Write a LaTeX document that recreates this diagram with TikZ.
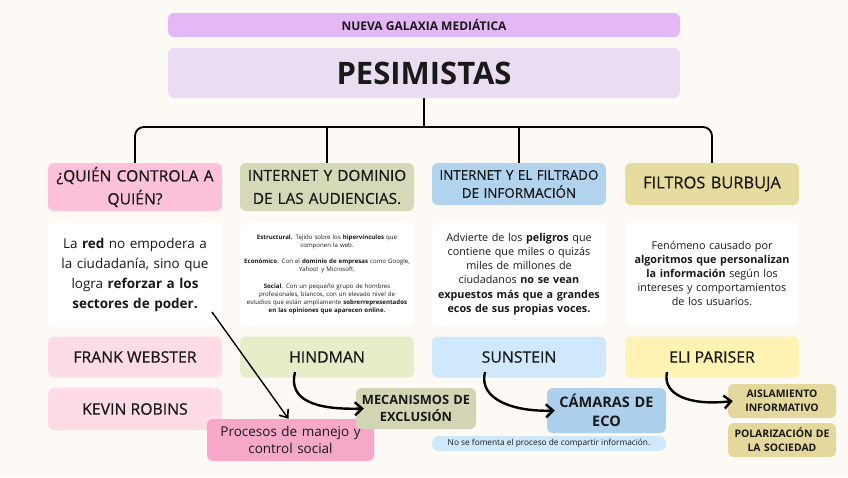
\documentclass[tikz,border=0pt]{standalone}
\usepackage{fontspec}
\setmainfont{Open Sans}
\newfontfamily\medfont[FakeBold=0.6]{Open Sans}
\usetikzlibrary{arrows.meta}
\definecolor{bgc}{HTML}{FDF9F4}
\definecolor{lilac}{HTML}{E4B8F4}
\definecolor{pesc}{HTML}{EADDF1}
\definecolor{pinkh}{HTML}{FDC2D9}
\definecolor{sageh}{HTML}{D5D9B8}
\definecolor{blueh}{HTML}{B1D3EE}
\definecolor{khakih}{HTML}{E6DCA0}
\definecolor{pinkl}{HTML}{FDDCE8}
\definecolor{sagel}{HTML}{E7EDC9}
\definecolor{bluel}{HTML}{D0E8FC}
\definecolor{yell}{HTML}{FEF3B2}
\definecolor{procc}{HTML}{F6A8C9}
\definecolor{mecc}{HTML}{D3D5B4}
\definecolor{camc}{HTML}{ADD1EC}
\definecolor{aisc}{HTML}{E4D89C}
\newcommand{\fs}[2]{\fontsize{#1}{#2}\selectfont}
\tikzset{
  box/.style={rounded corners=6pt, inner sep=0pt, align=center, text=black!90},
  tree/.style={line width=1.8pt, rounded corners=9pt},
  arr/.style={line width=2.4pt, -{Straight Barb[length=7pt,width=13pt,line width=2.4pt]}},
  arrthin/.style={line width=1.4pt, -{Straight Barb[length=7pt,width=11pt,line width=1.6pt]}},
}
\begin{document}
\begin{tikzpicture}[x=1pt,y=-1pt]
\fill[bgc] (0,0) rectangle (848,477);
\useasboundingbox (0,0) rectangle (848,477);

% top
\node[box, fill=lilac, minimum width=512pt, minimum height=24pt, font=\fs{12}{13}\bfseries] (gal) at (424,25) {NUEVA GALAXIA MEDIÁTICA};
\node[box, fill=pesc, minimum width=512pt, minimum height=50pt, font=\fs{31}{34}\bfseries] (pes) at (424,73) {PESIMISTAS};

% headers
\node[box, fill=pinkh, minimum width=174pt, minimum height=48pt, text width=172pt, font=\medfont\fs{15.6}{23}] (q1) at (135,187) {¿QUIÉN CONTROLA A\\QUIÉN?};
\node[box, fill=sageh, minimum width=174pt, minimum height=48pt, text width=172pt, font=\medfont\fs{15.3}{23}] (q2) at (327,187) {INTERNET Y DOMINIO\\DE LAS AUDIENCIAS.};
\node[box, fill=blueh, minimum width=174pt, minimum height=42pt, text width=172pt, font=\medfont\fs{13.4}{18}] (q3) at (519,184) {INTERNET Y EL FILTRADO\\DE INFORMACIÓN};
\node[box, fill=khakih, minimum width=174pt, minimum height=42pt, text width=172pt, font=\medfont\fs{16.4}{18}] (q4) at (712,184) {FILTROS BURBUJA};

% tree
\draw[tree] (pes.south) -- (424,127);
\draw[tree] (q1.north) |- (424,127) -| (q4.north);
\draw[tree] (q2.north) -- (327,127);
\draw[tree] (q3.north) -- (519,127);

% description boxes
\node[box, fill=white, minimum width=174pt, minimum height=104pt, text width=165pt, font=\fs{13.5}{20}] (d1) at (135,275) {La \textbf{red} no empodera a\\la ciudadanía, sino que\\logra \textbf{reforzar a los}\\\textbf{sectores de poder.}};
\node[box, fill=white, minimum width=174pt, minimum height=104pt, text width=174pt, font=\fs{6.1}{8}] (d2) at (327,274) {\textbf{Estructural.} Tejido sobre los \textbf{hipervínculos} que\\componen la web.\\[8.5pt]\textbf{Económico}. Con el \textbf{dominio de empresas} como Google,\\Yahoo! y Microsoft.\\[8.5pt]\textbf{Social}. Con un pequeño grupo de hombres\\profesionales, blancos, con un elevado nivel de\\estudios que están ampliamente \textbf{sobrerrepresentados}\\\textbf{en las opiniones que aparecen online.}};
\node[box, fill=white, minimum width=174pt, minimum height=104pt, text width=165pt, font=\fs{10.8}{14.3}] (d3) at (519,274) {Advierte de los \textbf{peligros} que\\contiene que miles o quizás\\miles de millones de\\ciudadanos \textbf{no se vean}\\\textbf{expuestos más que a grandes}\\\textbf{ecos de sus propias voces.}};
\node[box, fill=white, minimum width=174pt, minimum height=104pt, text width=165pt, font=\fs{10.8}{14}] (d4) at (712,273) {Fenómeno causado por\\\textbf{algoritmos que personalizan}\\\textbf{la información} según los\\intereses y comportamientos\\de los usuarios.};

% names
\node[box, fill=pinkl, minimum width=174pt, minimum height=41pt, font=\medfont\fs{15.8}{18}] (fw) at (135,357) {FRANK WEBSTER};
\node[box, fill=sagel, minimum width=174pt, minimum height=41pt, font=\medfont\fs{15.8}{18}] (hind) at (327,357) {HINDMAN};
\node[box, fill=bluel, minimum width=174pt, minimum height=41pt, font=\medfont\fs{15.8}{18}] (sun) at (519,357) {SUNSTEIN};
\node[box, fill=yell, minimum width=174pt, minimum height=41pt, font=\medfont\fs{15.8}{18}] (eli) at (712,357) {ELI PARISER};
\node[box, fill=pinkl, minimum width=174pt, minimum height=42pt, font=\medfont\fs{15.8}{18}] (kr) at (135,409) {KEVIN ROBINS};

% results
\node[box, fill=procc, minimum width=167pt, minimum height=42pt, text width=165pt, font=\fs{13.5}{17.5}] (proc) at (290.5,440) {Procesos de manejo y\\control social};
\node[box, fill=mecc, minimum width=120pt, minimum height=41pt, text width=118pt, font=\fs{12.8}{17}\bfseries] (mec) at (416,408.5) {MECANISMOS DE\\EXCLUSIÓN};
\node[box, fill=camc, minimum width=119pt, minimum height=45pt, text width=117pt, font=\fs{14.5}{18.5}\bfseries] (cam) at (606.5,410.5) {CÁMARAS DE\\ECO};
\node[box, fill=bluel, minimum width=234pt, minimum height=15pt, rounded corners=7pt, font=\fs{8.3}{9}] (nof) at (549,443.5) {No se fomenta el proceso de compartir información.};
\node[box, fill=aisc, minimum width=108pt, minimum height=34pt, text width=106pt, font=\fs{10.4}{14}\bfseries] (ais) at (782,401) {AISLAMIENTO\\INFORMATIVO};
\node[box, fill=aisc, minimum width=108pt, minimum height=34pt, text width=106pt, font=\fs{10.4}{14}\bfseries] (pol) at (782,440) {POLARIZACIÓN DE\\LA SOCIEDAD};

% arrows
\coordinate (s1) at (212,312);
\coordinate (s2) at (295,372);
\coordinate (s3) at (485,372);
\coordinate (s4) at (667,372);
\draw[arrthin] (s1) -- ([xshift=-2pt]proc.north);
\draw[arr] (s2) .. controls (288,400) and (315,410) .. ([xshift=8pt]mec.west);
\draw[arr] (s3) .. controls (478,400) and (515,412) .. ([xshift=8pt]cam.west);
\draw[arr] (s4) .. controls (662,395) and (690,406) .. ([xshift=5pt]ais.west);
\end{tikzpicture}
\end{document}
